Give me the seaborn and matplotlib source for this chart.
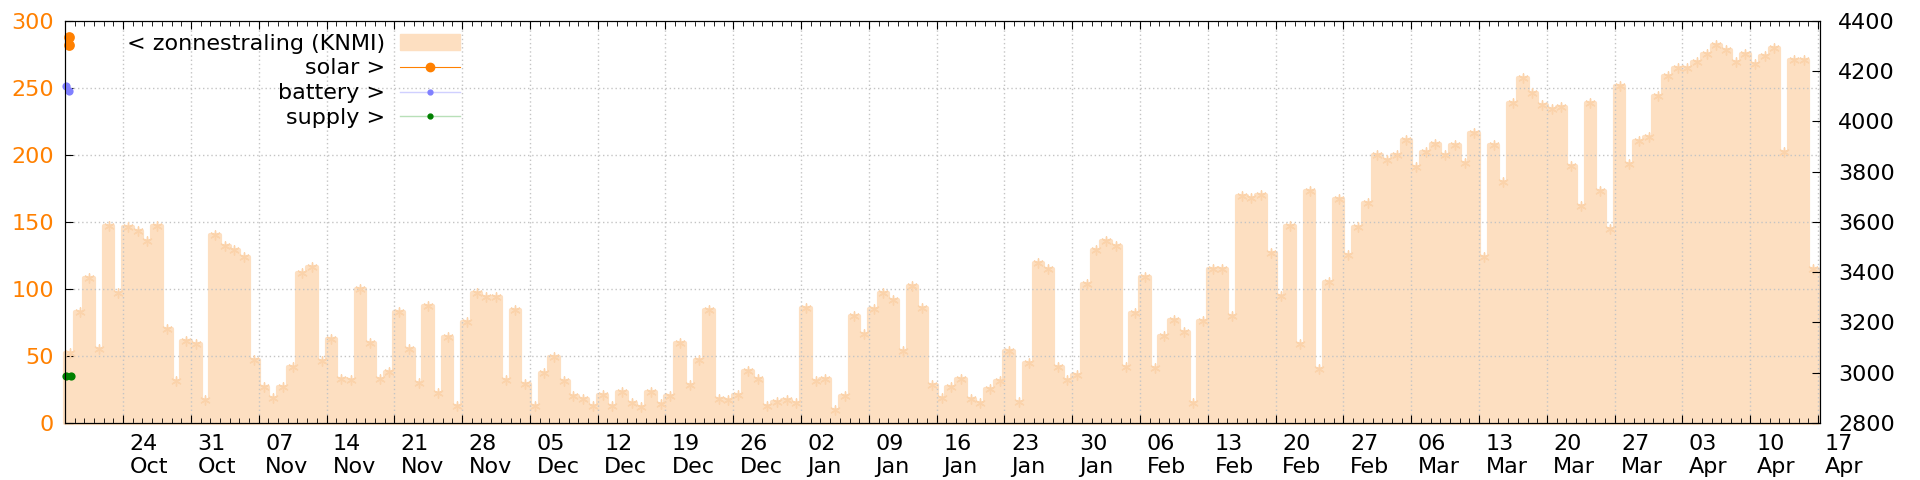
import numpy as np
import pandas as pd
import seaborn as sns
import matplotlib.pyplot as plt
import matplotlib.dates as mdates
import matplotlib.transforms as mtransforms
from matplotlib.lines import Line2D
from matplotlib.patches import Patch

# daily solar radiation (KNMI), one value per day from 18 Oct
rad_oct = [52, 83, 108, 55, 147, 97, 146, 143, 136, 147, 70, 31, 61, 59]
rad_nov = [17, 140, 132, 129, 124, 47, 27, 19, 27, 42, 112, 116, 46, 63, 33,
           32, 100, 60, 33, 38, 83, 55, 30, 87, 22, 64, 13, 75, 97, 94]
rad_dec = [94, 32, 84, 29, 13, 37, 49, 31, 20, 18, 13, 21, 13, 23, 15, 12,
           23, 14, 20, 60, 28, 47, 84, 18, 17, 21, 39, 33, 13, 16, 17]
rad_jan = [15, 86, 31, 33, 10, 20, 80, 66, 85, 97, 92, 54, 102, 86, 28, 19,
           27, 33, 18, 15, 25, 31, 54, 16, 45, 119, 115, 42, 32, 36, 104]
rad_feb = [129, 136, 132, 42, 82, 109, 41, 65, 77, 68, 15, 76, 115, 115, 80,
           169, 168, 170, 127, 95, 147, 59, 173, 40, 105, 167, 125, 146]
rad_mar = [164, 200, 196, 200, 211, 191, 202, 208, 200, 207, 194, 216, 124,
           207, 180, 239, 257, 246, 237, 234, 236, 192, 162, 239, 173, 145,
           251, 193, 210, 213, 244]
rad_apr = [259, 265, 265, 269, 275, 282, 278, 269, 275, 268, 274, 280, 202,
           271, 271, 115]

# the few meter readings at the very start (right axis)
solar_t = ['2022-10-18 10:45', '2022-10-18 10:50']
solar_v = [4336, 4303]
battery_t = ['2022-10-18 02:30', '2022-10-18 09:00']
battery_v = [4140, 4122]
supply_t = ['2022-10-18 02:30', '2022-10-18 14:00']
supply_v = [2988, 2988]

peach = '#fddfc1'
orange = '#ff8000'

radiation = rad_oct + rad_nov + rad_dec + rad_jan + rad_feb + rad_mar + rad_apr
start = pd.Timestamp('2022-10-18')
edges = mdates.date2num(pd.date_range(start, periods=len(radiation) + 1, freq='D'))
centers = edges[:-1] + 0.5
df = pd.DataFrame({'t': centers, 'rad': radiation})

plt.rcParams['font.family'] = ['DejaVu Sans']
fs = 16

fig, ax = plt.subplots(figsize=(19.2, 4.8), dpi=100)
fig.subplots_adjust(left=65 / 1920, right=1820 / 1920,
                    top=1 - 20.7 / 480, bottom=1 - 423 / 480)

sns.histplot(df, x='t', weights='rad', binwidth=1,
             binrange=(float(edges[0]), float(edges[-1])), element='step', fill=True,
             color=peach, alpha=1, edgecolor=peach, linewidth=3, ax=ax)
for coll in ax.collections:
    coll.set_clip_on(False)
sns.scatterplot(df, x='t', y='rad', marker=(6, 2, 0), color='#fbd3ab',
                s=45, linewidth=1, ax=ax, zorder=3)

ax.set_xlim(edges[0], edges[0] + 181.2)
ax.set_ylim(0, 300)
ax.set_yticks(range(0, 301, 50))
ax.set_xlabel('')
ax.set_ylabel('')
ax.set_axisbelow(False)
ax.grid(True, which='major', color='#c4c4c4', linestyle=(0, (1, 2)), linewidth=1)

ax.xaxis.set_major_locator(mdates.WeekdayLocator(byweekday=mdates.MO))
ax.xaxis.set_minor_locator(mdates.DayLocator())
ax.xaxis.set_major_formatter(mdates.DateFormatter('%d\n%b'))
ax.tick_params(axis='x', which='both', direction='in', top=True, labelsize=fs, pad=8)
ax.tick_params(axis='x', which='major', length=5.5)
ax.tick_params(axis='x', which='minor', length=3.5)
ax.tick_params(axis='y', direction='in', length=5.5, labelsize=fs,
               labelcolor=orange, pad=8, right=False)

ax2 = ax.twinx()
sol = pd.to_datetime(solar_t).map(mdates.date2num)
bat = pd.to_datetime(battery_t).map(mdates.date2num)
sup = pd.to_datetime(supply_t).map(mdates.date2num)
sns.scatterplot(x=list(sol), y=solar_v, color=orange, s=60, linewidth=0, ax=ax2, clip_on=False)
sns.scatterplot(x=list(bat), y=battery_v, color='#8080ff', s=35, linewidth=0, ax=ax2, clip_on=False)
sns.scatterplot(x=list(sup), y=supply_v, color='#008000', s=35, linewidth=0, ax=ax2, clip_on=False)
ax2.set_ylim(2800, 4400)
ax2.set_yticks(range(2800, 4401, 200))
ax2.set_ylabel('')
ax2.tick_params(axis='y', direction='in', length=5.5, labelsize=fs, pad=13)

handles = [
    Patch(facecolor=peach, edgecolor=peach),
    Line2D([], [], color=orange, lw=0.8, marker='o', ms=6),
    Line2D([], [], color='#d0d0ff', lw=1, marker='o', ms=3.5, mfc='#8080ff', mec='#8080ff'),
    Line2D([], [], color='#b8e0b8', lw=1, marker='o', ms=3.5, mfc='#008000', mec='#008000'),
]
labels = ['< zonnestraling (KNMI)', 'solar >', 'battery >', 'supply >']
leg = ax2.legend(handles, labels, loc='upper right', markerfirst=False, frameon=False,
                 fontsize=fs, handlelength=2.7, handletextpad=0.68, labelspacing=0.22,
                 borderpad=0, borderaxespad=0,
                 bbox_to_anchor=((460 - 65) / 1755, (423 - 33.5) / 402.3))

fig.canvas.draw()
offset = mtransforms.ScaledTranslation(6.5 / 100, 0, fig.dpi_scale_trans)
for lbl in ax.get_xticklabels():
    lbl.set_transform(lbl.get_transform() + offset)
    lbl.set_horizontalalignment('left')

fig.savefig('out.png', dpi=100)
